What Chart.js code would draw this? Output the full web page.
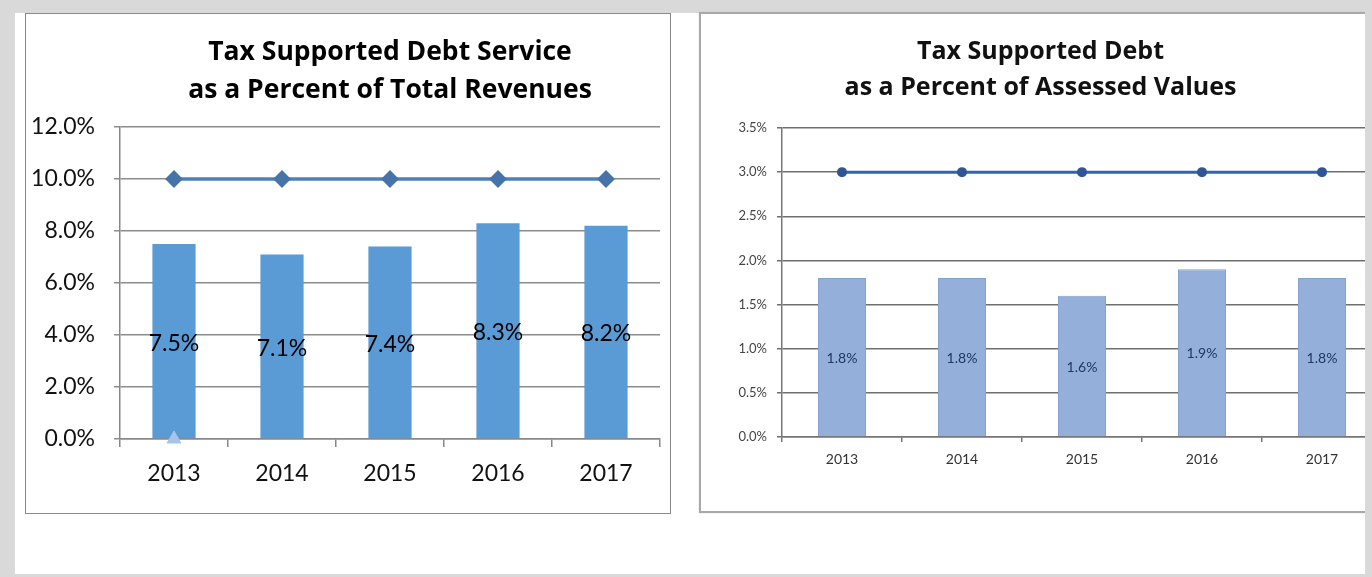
<!DOCTYPE html>
<html>
<head>
<meta charset="utf-8">
<script src="https://cdn.jsdelivr.net/npm/chart.js@4"></script>
<style>
  html, body { margin: 0; padding: 0; }
  body {
    width: 1372px; height: 577px; overflow: hidden; position: relative;
    background: #d9d9d9; font-family: Lato, sans-serif;
  }
  .sheet { position: absolute; left: 15px; top: 13px; width: 1350px; height: 561px; background: #fff; }
  .frame { position: absolute; box-sizing: border-box; }
  #frameLeft { left: 25px; top: 13px; width: 646px; height: 501px; border: 1.5px solid #8a8a8a; }
  #frameRight { left: 699px; top: 12px; width: 720px; height: 501px; border: 2px solid #a8a8a8; box-shadow: 0 0 1px #bbb; }
  canvas { position: absolute; }
  #serviceChart { left: 25px; top: 13px; }
  #debtChart { left: 699px; top: 13px; filter: blur(0.5px); }
  .edge { position: absolute; left: 1365px; top: 0; width: 7px; height: 577px; background: #d9d9d9; }
</style>
</head>
<body>
<div class="sheet"></div>
<div class="frame" id="frameLeft"></div>
<div class="frame" id="frameRight"></div>
<canvas id="serviceChart" width="645" height="500"></canvas>
<canvas id="debtChart" width="700" height="499"></canvas>
<div class="edge"></div>
<script>
  const years = ['2013', '2014', '2015', '2016', '2017'];

  // debt service / total revenues
  const serviceRatio = [7.5, 7.1, 7.4, 8.3, 8.2];
  const serviceLimit = [10, 10, 10, 10, 10];
  const serviceMarker = [0, null, null, null, null];

  // debt / assessed values
  const debtRatio = [1.8, 1.8, 1.6, 1.9, 1.8];
  const debtLimit = [3, 3, 3, 3, 3];

  const pct = (v) => Number(v).toFixed(1) + '%';

  // writes each bar's value in the middle of the bar
  function barLabels(font, color, dy) {
    return {
      id: 'barLabels',
      afterDatasetsDraw(chart) {
        const ctx = chart.ctx;
        chart.data.datasets.forEach((ds, i) => {
          if (ds.type !== 'bar') return;
          const meta = chart.getDatasetMeta(i);
          meta.data.forEach((bar, j) => {
            ctx.save();
            ctx.font = font;
            ctx.fillStyle = color;
            ctx.textAlign = 'center';
            ctx.textBaseline = 'middle';
            ctx.fillText(pct(ds.data[j]), bar.x, (bar.y + bar.base) / 2 + dy);
            ctx.restore();
          });
        });
      }
    };
  }

  new Chart(document.getElementById('serviceChart'), {
    data: {
      labels: years,
      datasets: [
        {
          type: 'line',
          data: serviceLimit,
          borderColor: '#4f7fb8',
          borderWidth: 3.5,
          pointStyle: 'rectRot',
          pointRadius: 6.5,
          pointBackgroundColor: '#4673a8',
          pointBorderColor: '#4673a8',
          order: 0
        },
        {
          type: 'line',
          data: serviceMarker,
          showLine: false,
          pointStyle: 'triangle',
          pointRadius: 8,
          pointBackgroundColor: '#a9c4e8',
          pointBorderColor: '#a9c4e8',
          clip: false,
          order: 0
        },
        {
          type: 'bar',
          data: serviceRatio,
          backgroundColor: '#5b9bd5',
          barPercentage: 0.4,
          categoryPercentage: 1,
          order: 1
        }
      ]
    },
    options: {
      responsive: false,
      animation: false,
      layout: { padding: { left: 0, right: 10, top: 0, bottom: 0 } },
      plugins: {
        legend: { display: false },
        tooltip: { enabled: false },
        title: {
          display: true,
          fullSize: false,
          text: ['Tax Supported Debt Service', 'as a Percent of Total Revenues'],
          color: '#000',
          font: { family: 'Open Sans', weight: 'bold', size: 26.5, lineHeight: 38 / 26.5 },
          padding: { top: 20, bottom: 18 }
        }
      },
      scales: {
        x: {
          offset: true,
          grid: { offset: true, drawOnChartArea: false, drawTicks: true, tickLength: 8, color: '#888', lineWidth: 1.5 },
          border: { color: '#888', width: 1.5 },
          ticks: { color: '#111', padding: 13, font: { family: 'Lato', size: 23 } },
          afterFit: (s) => { s.height = 74; }
        },
        y: {
          min: 0,
          max: 12,
          grid: { color: '#8c8c8c', lineWidth: 1.5, tickLength: 6 },
          border: { color: '#888', width: 1.5 },
          ticks: { stepSize: 2, padding: 19, color: '#111', font: { family: 'Lato', size: 23 }, callback: pct },
          afterFit: (s) => { s.width = 95; }
        }
      }
    },
    plugins: [barLabels('23px Lato', '#000', 2)]
  });

  new Chart(document.getElementById('debtChart'), {
    data: {
      labels: years,
      datasets: [
        {
          type: 'line',
          data: debtLimit,
          borderColor: '#3165b3',
          borderWidth: 3,
          pointStyle: 'circle',
          pointRadius: 3.5,
          pointBackgroundColor: '#2f5597',
          pointBorderColor: '#2f5597',
          order: 0
        },
        {
          type: 'bar',
          data: debtRatio,
          backgroundColor: '#93afda',
          borderColor: '#86a2cf',
          borderWidth: 1,
          barPercentage: 0.4,
          categoryPercentage: 1,
          order: 1
        }
      ]
    },
    options: {
      responsive: false,
      animation: false,
      layout: { padding: { left: 0, right: 17, top: 0, bottom: 0 } },
      plugins: {
        legend: { display: false },
        tooltip: { enabled: false },
        title: {
          display: true,
          text: ['Tax Supported Debt', 'as a Percent of Assessed Values'],
          color: '#111',
          font: { family: 'Open Sans', weight: 'bold', size: 25, lineHeight: 36 / 25 },
          padding: { top: 21, bottom: 22 }
        }
      },
      scales: {
        x: {
          offset: true,
          grid: { offset: true, drawOnChartArea: false, drawTicks: true, tickLength: 5, color: '#777', lineWidth: 1.5 },
          border: { color: '#777', width: 1.5 },
          ticks: { color: '#333', padding: 9, font: { family: 'Lato', size: 14 } },
          afterFit: (s) => { s.height = 75; }
        },
        y: {
          min: 0,
          max: 3.5,
          grid: { color: '#6f6f6f', lineWidth: 1.5, tickLength: 5 },
          border: { color: '#777', width: 1.5 },
          ticks: { stepSize: 0.5, padding: 10, color: '#444', font: { family: 'Lato', size: 13 }, callback: pct },
          afterFit: (s) => { s.width = 83; }
        }
      }
    },
    plugins: [barLabels('14px Lato', '#1f3864', 1)]
  });
</script>
</body>
</html>
